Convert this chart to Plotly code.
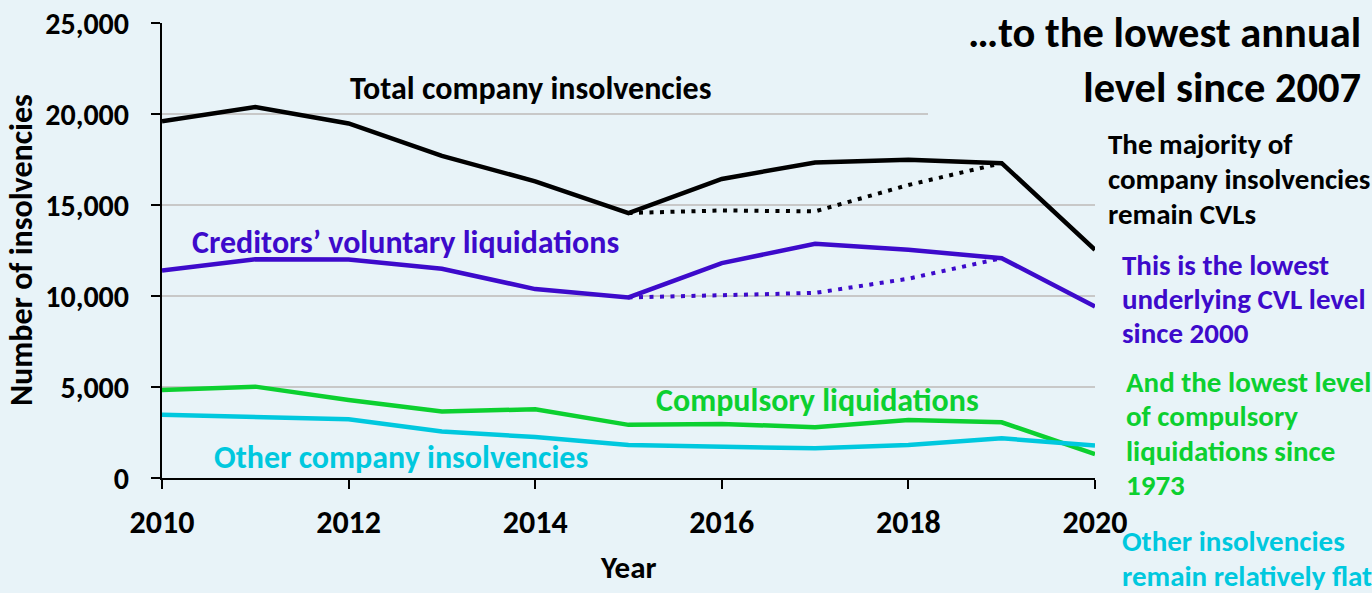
import plotly.graph_objects as go

years = [2010, 2011, 2012, 2013, 2014, 2015, 2016, 2017, 2018, 2019, 2020]
total = [19600, 20380, 19480, 17700, 16300, 14560, 16430, 17340, 17490, 17300, 12540]
cvl = [11400, 12020, 12010, 11500, 10380, 9920, 11810, 12870, 12540, 12080, 9420]
compulsory = [4840, 5020, 4290, 3650, 3780, 2920, 2970, 2790, 3190, 3060, 1310]
other = [3470, 3370, 3230, 2550, 2250, 1810, 1690, 1630, 1810, 2180, 1780]

under_years = [2015, 2016, 2017, 2018, 2019]
total_underlying = [14560, 14700, 14650, 16100, 17300]
cvl_underlying = [9920, 10070, 10170, 10950, 12080]

x_ticks = [2010, 2012, 2014, 2016, 2018, 2020]
y_ticks = [0, 5000, 10000, 15000, 20000, 25000]

BG = "#E8F3F8"
BLACK = "#000000"
PURPLE = "#3D0ACB"
GREEN = "#0CD030"
CYAN = "#00C8DE"
FONT = "Carlito, Calibri, Lato, sans-serif"

W, H = 1372, 593
L, R, T, B = 162, 1095, 23, 478

def px(x):
    return (x - L) / (R - L)

def py(y):
    return (B - y) / (B - T)

fig = go.Figure()
line_w = 4.5
fig.add_trace(go.Scatter(x=years, y=total, mode="lines", line=dict(color=BLACK, width=line_w), showlegend=False))
fig.add_trace(go.Scatter(x=under_years, y=total_underlying, mode="lines", line=dict(color=BLACK, width=4, dash="4px,6.5px"), showlegend=False))
fig.add_trace(go.Scatter(x=years, y=cvl, mode="lines", line=dict(color=PURPLE, width=line_w), showlegend=False))
fig.add_trace(go.Scatter(x=under_years, y=cvl_underlying, mode="lines", line=dict(color=PURPLE, width=4, dash="4px,6.5px"), showlegend=False))
fig.add_trace(go.Scatter(x=years, y=compulsory, mode="lines", line=dict(color=GREEN, width=line_w), showlegend=False))
fig.add_trace(go.Scatter(x=years, y=other, mode="lines", line=dict(color=CYAN, width=line_w), showlegend=False))

xtickfont = dict(family=FONT, size=32, color=BLACK, weight="bold")
ytickfont = dict(family=FONT, size=30, color=BLACK, weight="bold")
fig.update_layout(
    width=W, height=H,
    margin=dict(l=L, r=W - R, t=T, b=H - B, autoexpand=False),
    paper_bgcolor=BG, plot_bgcolor=BG,
    font=dict(family=FONT, color=BLACK),
    xaxis=dict(
        range=[2010, 2020], tickmode="array", tickvals=x_ticks,
        ticktext=[str(v) for v in x_ticks], automargin=False,
        showgrid=False, zeroline=False, showline=True, linecolor=BLACK, linewidth=2,
        ticks="outside", ticklen=9, tickwidth=2, tickcolor=BLACK, tickfont=xtickfont,
        ticklabelstandoff=6,
    ),
    yaxis=dict(
        range=[0, 25000], tickmode="array", tickvals=y_ticks,
        ticktext=["{:,}".format(v) for v in y_ticks], automargin=False,
        showgrid=True, gridcolor="#C8C8C8", gridwidth=2, zeroline=False,
        showline=True, linecolor=BLACK, linewidth=2,
        ticks="outside", ticklen=9, tickwidth=2, tickcolor=BLACK, tickfont=ytickfont,
        ticklabelstandoff=16,
    ),
)

# background block behind the title (covers gridlines, as in the original)
fig.add_shape(type="rect", xref="paper", yref="paper", x0=px(928), x1=px(1372), y0=py(120), y1=py(0),
              fillcolor=BG, line=dict(width=0), layer="above")

def note(text, x, y, color, size=30, xanchor="left", align="left", angle=0):
    fig.add_annotation(text=text, xref="paper", yref="paper", x=px(x), y=py(y),
                       xanchor=xanchor, yanchor="middle", align=align, showarrow=False,
                       textangle=angle,
                       font=dict(family=FONT, size=size, color=color, weight="bold"))

note("Number of insolvencies", 21, 250, BLACK, 32, xanchor="center", angle=-90)
note("Year", 628, 567, BLACK, 31, xanchor="center")

note("Total company insolvencies", 530, 88, BLACK, 32, xanchor="center")
note("Creditors’ voluntary liquidations", 190, 243, PURPLE, 32)
note("Compulsory liquidations", 817, 401, GREEN, 32, xanchor="center")
note("Other company insolvencies", 401, 457, CYAN, 32, xanchor="center")

note("…to the lowest annual<br>level since 2007", 1363, 60, BLACK, 42.5, xanchor="right", align="right")

def block(lines, x, y0, dy, color, size=29):
    for i, t in enumerate(lines):
        note(t, x, y0 + i * dy, color, size)

block(["The majority of", "company insolvencies", "remain CVLs"], 1106, 144, 35, BLACK)
block(["This is the lowest", "underlying CVL level", "since 2000"], 1120, 265, 34, PURPLE)
block(["And the lowest level", "of compulsory", "liquidations since", "1973"], 1124, 382, 34.3, GREEN)
block(["Other insolvencies", "remain relatively flat"], 1120, 541, 34.5, CYAN)

fig.write_html("out.html", config={"displayModeBar": False},
               post_script="document.body.style.margin='0';document.body.style.overflow='hidden';")
